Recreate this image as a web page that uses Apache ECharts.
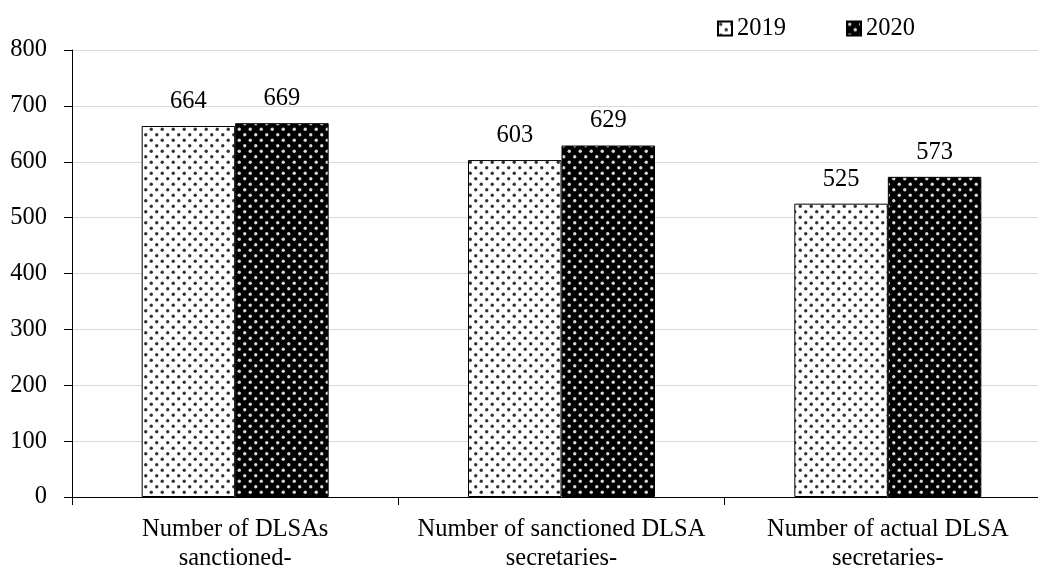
<!DOCTYPE html>
<html><head><meta charset="utf-8">
<script src="https://cdn.jsdelivr.net/npm/echarts@6/dist/echarts.min.js"></script>
<style>html,body{margin:0;padding:0;background:#fff;overflow:hidden}#c{width:1038px;height:573px}</style>
</head><body><div id="c"></div>
<script>
const categories = ['Number of DLSAs\nsanctioned-', 'Number of sanctioned DLSA\nsecretaries-', 'Number of actual DLSA\nsecretaries-'];
const values2019 = [664, 603, 525];
const values2020 = [669, 629, 573];
const seriesNames = ['2019', '2020'];
const yTicks = [0, 800, 100];

function dotPattern(bg, dot) {
  const s = 11;
  const cv = document.createElement('canvas');
  cv.width = s; cv.height = s;
  const ctx = cv.getContext('2d');
  ctx.fillStyle = bg; ctx.fillRect(0, 0, s, s);
  ctx.fillStyle = dot;
  [[2.75, 2.75], [8.25, 8.25]].forEach(p => {
    ctx.beginPath(); ctx.arc(p[0], p[1], 1.7, 0, Math.PI * 2); ctx.fill();
  });
  return { image: cv, repeat: 'repeat' };
}

const FONT = "'Liberation Serif', 'Times New Roman', serif";
const FS = 24.5;
const chart = echarts.init(document.getElementById('c'), null, { renderer: 'canvas' });
const labelCfg = { show: true, position: 'top', distance: 12, color: '#000', fontFamily: FONT, fontSize: FS };
chart.setOption({
  animation: false,
  backgroundColor: '#fff',
  textStyle: { fontFamily: FONT },
  legend: {
    left: 717, top: 16, padding: 0, itemWidth: 14, itemHeight: 14, itemGap: 60,
    icon: 'rect',
    textStyle: { fontFamily: FONT, fontSize: FS, color: '#000', padding: [2, 0, 0, 0] },
    data: seriesNames
  },
  grid: { left: 72, top: 50, bottom: 76, width: 979, containLabel: false, outerBoundsMode: 'none' },
  xAxis: {
    type: 'category', data: categories,
    axisLine: { lineStyle: { color: '#000', width: 1 } },
    axisTick: { show: true, length: 8, lineStyle: { color: '#000' } },
    axisLabel: { interval: 0, margin: 18, color: '#000', fontFamily: FONT, fontSize: FS, lineHeight: 29 }
  },
  yAxis: {
    type: 'value', min: yTicks[0], max: yTicks[1], interval: yTicks[2],
    axisLine: { show: true, lineStyle: { color: '#000', width: 1 } },
    axisTick: { show: true, length: 8, lineStyle: { color: '#000' } },
    axisLabel: { margin: 25, color: '#000', fontFamily: FONT, fontSize: FS },
    splitLine: { show: true, lineStyle: { color: '#d9d9d9', width: 1 } }
  },
  series: [
    { name: seriesNames[0], type: 'bar', data: values2019, barWidth: 93.5, barGap: '0%',
      itemStyle: { color: dotPattern('#ffffff', '#333333'), borderColor: '#000', borderWidth: 1 },
      label: labelCfg },
    { name: seriesNames[1], type: 'bar', data: values2020, barWidth: 93.5, barGap: '0%',
      itemStyle: { color: dotPattern('#000000', '#d8d8d8'), borderColor: '#000', borderWidth: 1 },
      label: labelCfg }
  ]
});
</script></body></html>
